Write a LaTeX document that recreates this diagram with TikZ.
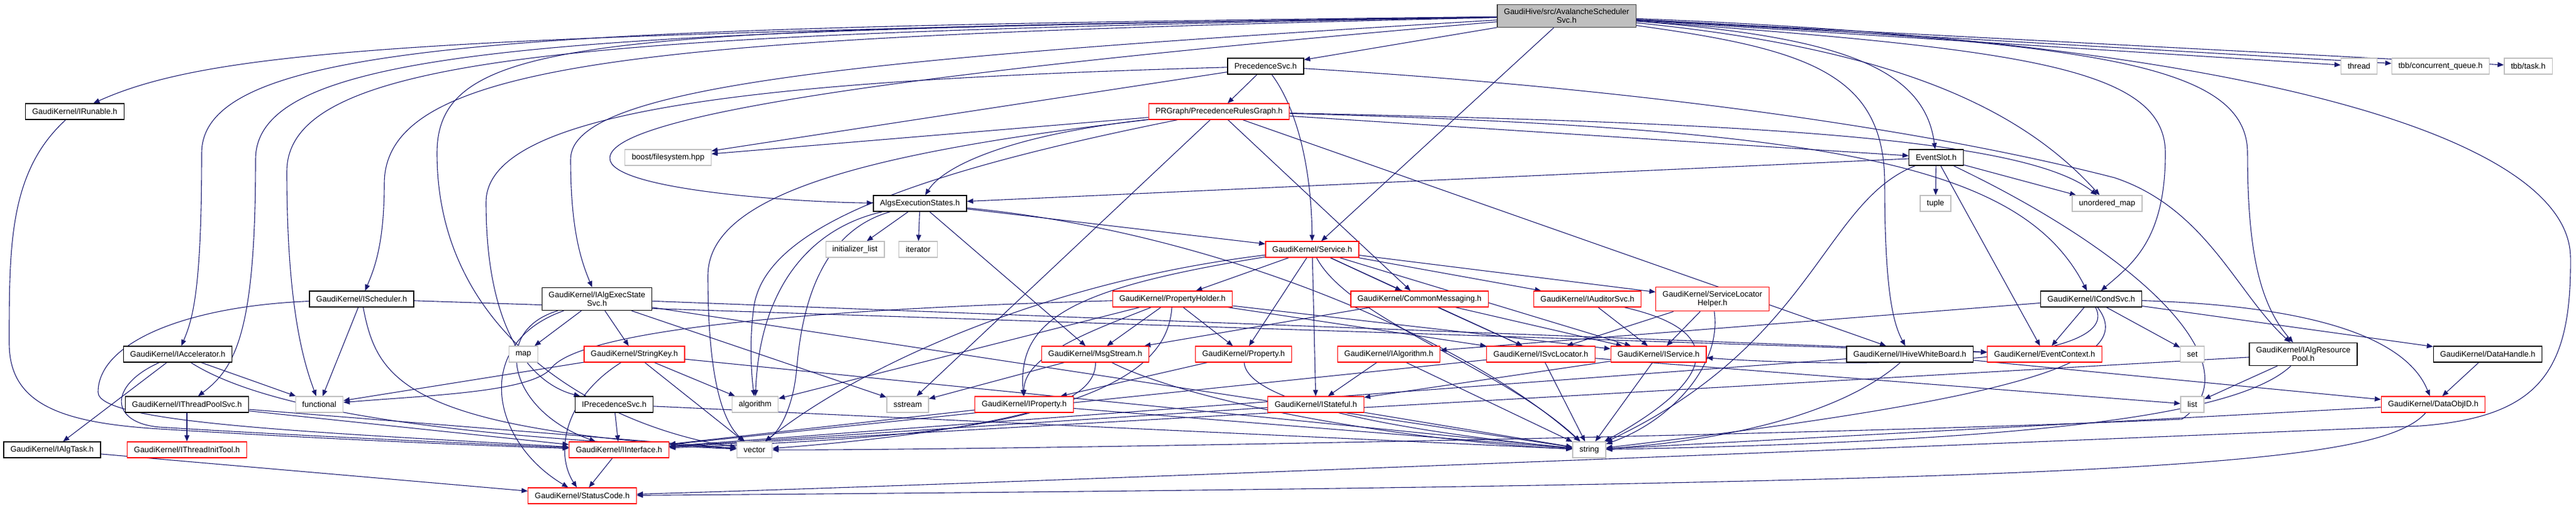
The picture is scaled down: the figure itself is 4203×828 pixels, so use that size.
\documentclass[tikz,border=0pt]{standalone}
\usepackage{fontspec}
\setmainfont{Liberation Sans}
\usetikzlibrary{arrows.meta,backgrounds}

\definecolor{inclblue}{HTML}{191970}
\definecolor{morered}{HTML}{FF0000}
\definecolor{sysgray}{HTML}{BFBFBF}
\definecolor{mainedge}{HTML}{404040}

\tikzset{
  hfile/.style={draw=black, line width=1.3pt, fill=white, align=center,
    font=\fontsize{13pt}{14.5pt}\selectfont,
    inner xsep=11pt, inner ysep=6.5pt, minimum height=26pt},
  hmore/.style={hfile, draw=morered},
  hsys/.style={hfile, draw=sysgray},
  hmain/.style={hfile, draw=mainedge, fill=sysgray},
  incl/.style={draw=inclblue, line width=1.1pt, -{Triangle[length=10pt,width=8pt]}}
}

\begin{document}
\begin{tikzpicture}[x=1pt,y=-1pt]
% Grafo de inclusiones de AvalancheSchedulerSvc.h
\useasboundingbox (0,0) rectangle (4203,828);
\node (main) at (2556,26) [hmain] {GaudiHive/src/AvalancheScheduler\\Svc.h};
\node (psvc) at (2065,108) [hfile] {PrecedenceSvc.h};
\node (thread) at (3849,108) [hsys] {thread};
\node (tbbcq) at (3982,108) [hsys] {tbb/concurrent\_queue.h};
\node (tbbtask) at (4125,108) [hsys] {tbb/task.h};
\node (irun) at (122,182) [hfile] {GaudiKernel/IRunable.h};
\node (prg) at (1989,182) [hmore] {PRGraph/PrecedenceRulesGraph.h};
\node (boost) at (1090,257) [hsys] {boost/filesystem.hpp};
\node (eslot) at (3159,257) [hfile] {EventSlot.h};
\node (aes) at (1501,332) [hfile] {AlgsExecutionStates.h};
\node (tuple) at (3158,332) [hsys] {tuple};
\node (umap) at (3438,332) [hsys] {unordered\_map};
\node (initl) at (1395,407) [hsys] {initializer\_list};
\node (iter) at (1498,407) [hsys] {iterator};
\node (svc) at (2141,407) [hmore] {GaudiKernel/Service.h};
\node (isched) at (590,488) [hfile] {GaudiKernel/IScheduler.h};
\node (iaes) at (974,488) [hfile] {GaudiKernel/IAlgExecState\\Svc.h};
\node (ph) at (1913,488) [hmore] {GaudiKernel/PropertyHolder.h};
\node (cmsg) at (2316,488) [hmore] {GaudiKernel/CommonMessaging.h};
\node (iaud) at (2590,488) [hmore] {GaudiKernel/IAuditorSvc.h};
\node (slh) at (2794,488) [hmore] {GaudiKernel/ServiceLocator\\Helper.h};
\node (icond) at (3412,488) [hfile] {GaudiKernel/ICondSvc.h};
\node (iacc) at (290,578) [hfile] {GaudiKernel/IAccelerator.h};
\node (map) at (854,578) [hsys] {map};
\node (skey) at (1035,578) [hmore] {GaudiKernel/StringKey.h};
\node (msg) at (1787,578) [hmore] {GaudiKernel/MsgStream.h};
\node (prop) at (2029,578) [hmore] {GaudiKernel/Property.h};
\node (ialg) at (2266,578) [hmore] {GaudiKernel/IAlgorithm.h};
\node (isvcl) at (2514,578) [hmore] {GaudiKernel/ISvcLocator.h};
\node (isvc) at (2706,578) [hmore] {GaudiKernel/IService.h};
\node (ihive) at (3116,578) [hfile] {GaudiKernel/IHiveWhiteBoard.h};
\node (ectx) at (3336,578) [hmore] {GaudiKernel/EventContext.h};
\node (set) at (3577,578) [hsys] {set};
\node (iares) at (3758,578) [hfile] {GaudiKernel/IAlgResource\\Pool.h};
\node (dh) at (4059,578) [hfile] {GaudiKernel/DataHandle.h};
\node (itps) at (305,660) [hfile] {GaudiKernel/IThreadPoolSvc.h};
\node (func) at (521,660) [hsys] {functional};
\node (iprec) at (1002,660) [hfile] {IPrecedenceSvc.h};
\node (algo) at (1232,660) [hsys] {algorithm};
\node (sstr) at (1481,660) [hsys] {sstream};
\node (iprop) at (1671,660) [hmore] {GaudiKernel/IProperty.h};
\node (istat) at (2147,660) [hmore] {GaudiKernel/IStateful.h};
\node (list) at (3577,660) [hsys] {list};
\node (doid) at (3970,660) [hmore] {GaudiKernel/DataObjID.h};
\node (ialgt) at (85,734) [hfile] {GaudiKernel/IAlgTask.h};
\node (itit) at (305,734) [hmore] {GaudiKernel/IThreadInitTool.h};
\node (iint) at (1010,734) [hmore] {GaudiKernel/IInterface.h};
\node (vec) at (1231,734) [hsys] {vector};
\node (str) at (2593,734) [hsys] {string};
\node (sc) at (950,809) [hmore] {GaudiKernel/StatusCode.h};

\begin{scope}[on background layer]
\draw[incl] (main) -- (psvc);
\draw[incl] (main) -- (svc);
\draw[incl] (main) .. controls (700,55) and (350,80) .. (irun);
\draw[incl] (main) .. controls (900,45) and (329,60) .. (329,250) .. controls (329,470) and (315,520) .. (iacc);
\draw[incl] (main) .. controls (950,50) and (417,70) .. (417,260) .. controls (417,540) and (385,600) .. (itps);
\draw[incl] (main) .. controls (1000,55) and (468,80) .. (468,280) .. controls (468,500) and (495,590) .. (func);
\draw[incl] (main) .. controls (1100,60) and (627,90) .. (627,300) .. controls (627,400) and (610,440) .. (isched);
\draw[incl] (main) .. controls (1000,50) and (713,50) .. (713,250) .. controls (713,560) and (1000,700) .. (vec);
\draw[incl] (main) .. controls (1400,95) and (931,140) .. (931,260) .. controls (931,380) and (950,430) .. (iaes);
\draw[incl] (main) .. controls (1450,120) and (1000,190) .. (995,257) .. controls (990,310) and (1300,330) .. (aes);
\draw[incl] (main) .. controls (3000,60) and (3140,110) .. (eslot);
\draw[incl] (main) .. controls (3100,80) and (3300,180) .. (umap);
\draw[incl] (main) .. controls (2950,80) and (3075,120) .. (3075,300) .. controls (3075,480) and (3090,530) .. (ihive);
\draw[incl] (main) .. controls (3300,80) and (3533,110) .. (3533,250) .. controls (3533,390) and (3480,430) .. (icond);
\draw[incl] (main) .. controls (3400,70) and (3667,100) .. (3667,250) .. controls (3667,420) and (3690,500) .. (iares);
\draw[incl] (main) -- (thread);
\draw[incl] (main) -- (tbbcq);
\draw[incl] (main) -- (tbbtask);
\draw[incl] (main) .. controls (3700,70) and (4192,230) .. (4194,420) .. controls (4196,610) and (4140,680) .. (3950,695) .. controls (3000,735) and (1600,790) .. (sc);

\draw[incl] (psvc) -- (prg);
\draw[incl] (psvc) -- (boost);
\draw[incl] (psvc) .. controls (2125,190) and (2140,300) .. (svc);
\draw[incl] (psvc) .. controls (1300,130) and (793,170) .. (793,330) .. controls (793,560) and (880,630) .. (iprec);
\draw[incl] (psvc) .. controls (2600,140) and (3100,200) .. (3450,290) .. controls (3600,340) and (3650,480) .. (iares);

\draw[incl] (prg) -- (boost);
\draw[incl] (prg) -- (eslot);
\draw[incl] (prg) .. controls (2800,200) and (3300,220) .. (umap);
\draw[incl] (prg) .. controls (3000,210) and (3300,270) .. (icond);
\draw[incl] (prg) -- (ihive);
\draw[incl] (prg) -- (cmsg);
\draw[incl] (prg) -- (sstr);
\draw[incl] (prg) .. controls (1650,220) and (1540,270) .. (aes);
\draw[incl] (prg) .. controls (1400,250) and (1155,320) .. (1155,450) .. controls (1155,620) and (1180,690) .. (vec);
\draw[incl] (prg) .. controls (1450,290) and (1249,380) .. (1230,500) .. controls (1222,560) and (1226,610) .. (algo);

\draw[incl] (aes) -- (initl);
\draw[incl] (aes) -- (iter);
\draw[incl] (aes) -- (msg);
\draw[incl] (aes) -- (svc);
\draw[incl] (aes) .. controls (1330,370) and (1240,460) .. (algo);
\draw[incl] (aes) .. controls (1330,380) and (1307,520) .. (1300,600) .. controls (1295,660) and (1275,700) .. (vec);
\draw[incl] (aes) .. controls (2000,380) and (2400,560) .. (str);

\draw[incl] (eslot) -- (aes);
\draw[incl] (eslot) -- (tuple);
\draw[incl] (eslot) -- (umap);
\draw[incl] (eslot) -- (ectx);
\draw[incl] (eslot) .. controls (2975,330) and (2960,560) .. (str);
\draw[incl] (eslot) .. controls (3500,420) and (3680,600) .. (3560,684) .. controls (3000,710) and (1600,735) .. (vec);

\draw[incl] (svc) -- (ph);
\draw[incl] (svc) -- (cmsg);
\draw[incl] (svc) -- (iaud);
\draw[incl] (svc) -- (slh);
\draw[incl] (svc) -- (prop);
\draw[incl] (svc) -- (istat);
\draw[incl] (svc) -- (isvcl);
\draw[incl] (svc) -- (isvc);
\draw[incl] (svc) .. controls (1750,470) and (1660,520) .. (iprop);
\draw[incl] (svc) .. controls (1700,460) and (1400,600) .. (vec);
\draw[incl] (svc) .. controls (2200,520) and (2450,600) .. (str);

\draw[incl] (iaes) -- (map);
\draw[incl] (iaes) -- (skey);
\draw[incl] (iaes) .. controls (800,540) and (830,670) .. (iint);
\draw[incl] (iaes) .. controls (770,560) and (800,720) .. (sc);
\draw[incl] (iaes) -- (ectx);
\draw[incl] (iaes) -- (str);
\draw[incl] (iaes) -- (sstr);

\draw[incl] (isched) -- (func);
\draw[incl] (isched) -- (ectx);
\draw[incl] (isched) .. controls (300,500) and (160,560) .. (160,640) .. controls (160,690) and (500,705) .. (iint);
\draw[incl] (isched) .. controls (615,620) and (660,700) .. (vec);

\draw[incl] (iacc) -- (ialgt);
\draw[incl] (iacc) -- (func);
\draw[incl] (iacc) .. controls (175,630) and (180,690) .. (260,697) .. controls (500,712) and (800,725) .. (iint);
\draw[incl] (iacc) .. controls (450,680) and (800,715) .. (vec);

\draw[incl] (itps) -- (itit);
\draw[incl] (itps) -- (iint);
\draw[incl] (itps) -- (vec);

\draw[incl] (irun) .. controls (15,280) and (15,400) .. (15,560) .. controls (15,660) and (100,690) .. (260,700) .. controls (500,715) and (800,728) .. (iint);
\draw[incl] (ialgt) -- (sc);
\draw[incl] (iint) -- (sc);

\draw[incl] (skey) -- (func);
\draw[incl] (skey) .. controls (920,650) and (905,740) .. (sc);
\draw[incl] (skey) -- (vec);
\draw[incl] (skey) -- (algo);
\draw[incl] (skey) -- (str);

\draw[incl] (iprec) -- (iint);
\draw[incl] (iprec) -- (str);

\draw[incl] (ph) -- (msg);
\draw[incl] (ph) -- (prop);
\draw[incl] (ph) .. controls (1780,540) and (1670,580) .. (iprop);
\draw[incl] (ph) -- (isvcl);
\draw[incl] (ph) -- (isvc);
\draw[incl] (ph) .. controls (1300,505) and (950,540) .. (900,600) .. controls (870,640) and (700,645) .. (func);
\draw[incl] (ph) -- (algo);
\draw[incl] (ph) .. controls (1905,600) and (1800,690) .. (vec);

\draw[incl] (cmsg) -- (msg);
\draw[incl] (cmsg) -- (isvcl);
\draw[incl] (cmsg) -- (isvc);

\draw[incl] (iaud) -- (isvc);
\draw[incl] (iaud) .. controls (2820,540) and (2800,620) .. (str);
\draw[incl] (slh) -- (isvcl);
\draw[incl] (slh) -- (isvc);
\draw[incl] (slh) .. controls (2810,600) and (2720,690) .. (str);

\draw[incl] (icond) -- (ectx);
\draw[incl] (icond) -- (set);
\draw[incl] (icond) -- (dh);
\draw[incl] (icond) .. controls (3800,500) and (3930,560) .. (doid);
\draw[incl] (icond) -- (ialg);
\draw[incl] (icond) .. controls (3470,600) and (3000,600) .. (isvc);
\draw[incl] (icond) .. controls (3490,590) and (3300,650) .. (str);

\draw[incl] (ihive) -- (doid);
\draw[incl] (ihive) .. controls (3000,680) and (2800,720) .. (str);
\draw[incl] (ihive) -- (iint);

\draw[incl] (iares) -- (list);
\draw[incl] (iares) -- (iint);
\draw[incl] (iares) .. controls (3650,680) and (3300,720) .. (str);

\draw[incl] (dh) -- (doid);
\draw[incl] (doid) -- (str);
\draw[incl] (doid) .. controls (3880,760) and (3500,790) .. (sc);

\draw[incl] (istat) -- (iint);
\draw[incl] (istat) -- (str);
\draw[incl] (ialg) -- (istat);
\draw[incl] (ialg) -- (str);
\draw[incl] (isvcl) -- (str);
\draw[incl] (isvcl) -- (iint);
\draw[incl] (isvcl) -- (list);
\draw[incl] (isvc) -- (istat);
\draw[incl] (isvc) -- (str);
\draw[incl] (iprop) -- (iint);
\draw[incl] (iprop) -- (str);
\draw[incl] (prop) -- (iprop);
\draw[incl] (prop) .. controls (2035,660) and (2300,705) .. (str);
\draw[incl] (msg) -- (sstr);
\draw[incl] (msg) .. controls (1790,690) and (1500,715) .. (iint);
\draw[incl] (msg) .. controls (1950,660) and (2300,720) .. (str);
\end{scope}
\end{tikzpicture}
\end{document}
